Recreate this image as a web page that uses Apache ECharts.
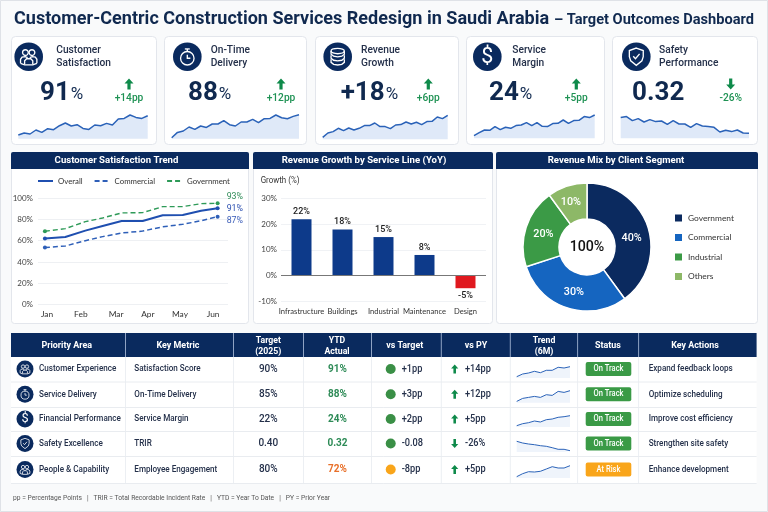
<!DOCTYPE html>
<html>
<head>
<meta charset="utf-8">
<style>
    html, body { margin: 0; padding: 0; background: #f9fafb; }
    #main { width: 768px; height: 512px; }
</style>
<script src="https://cdn.jsdelivr.net/npm/echarts@6/dist/echarts.min.js"></script>
</head>
<body>
<div id="main"></div>
<script>
// kpi cards
var kpiTitles = [['Customer', 'Satisfaction'], ['On-Time', 'Delivery'], ['Revenue', 'Growth'], ['Service', 'Margin'], ['Safety', 'Performance']];
var kpiValues = ['91', '88', '+18', '24', '0.32'];
var kpiUnits = ['%', '%', '%', '%', ''];
var kpiDeltas = ['+14pp', '+12pp', '+6pp', '+5pp', '-26%'];
var kpiIcons = ['people', 'watch', 'coins', 'dollar', 'shield'];

var sparkSatisfaction = [3.7, 5.7, 4.7, 8.7, 6.3, 10, 9, 13, 15.7, 12.7, 14, 10.3, 9.3, 13.7, 13, 15.3, 13.7, 19.7, 20.3, 23.7, 21.3, 20.3, 23];
var sparkDelivery = [1, 6.3, 7.7, 11.7, 9.3, 12.7, 11.3, 14.7, 14.7, 18, 14, 12.7, 16.7, 16.7, 19.3, 16, 20, 20.3, 23.7, 21, 20, 22.3, 24];
var sparkRevenue = [2, 6.3, 7.7, 11, 8.7, 11.3, 9.3, 11, 13.7, 13.7, 16.3, 12.7, 12.7, 10.7, 14.3, 14.7, 17.3, 15.3, 17, 14.7, 17.7, 18, 22.3, 20.7, 24];
var sparkMargin = [2.7, 5.7, 8.3, 8, 11.7, 8.7, 11, 10, 12.7, 13.3, 15.7, 12.7, 15.7, 12, 11.7, 14.7, 15, 18.3, 15, 17.7, 18, 21.7, 20.7, 23.3];
var sparkSafety = [20.7, 21.7, 17.7, 19.7, 16.3, 18.7, 16.7, 17.3, 14, 17.7, 14.3, 14.3, 11, 14.7, 12.3, 11.7, 11, 6.3, 8, 6.7, 8.3, 5.3, 5];

// customer satisfaction trend
var trendMonths = ['Jan', 'Feb', 'Mar', 'Apr', 'May', 'Jun'];
var trendMonthTicks = [0.06, 1.04, 2.06, 2.98, 3.91, 4.87];
var trendX = [0, 0.59, 1.17, 1.67, 2.22, 2.83, 3.41, 3.99, 4.52, 5];
var trendOverall = [62, 63.4, 69.4, 73.8, 78.4, 78.4, 83.8, 84, 88, 90.3];
var trendCommercial = [53.5, 55, 60, 63.8, 67.2, 69, 73, 75.3, 78.7, 82.5];
var trendGovernment = [68.8, 71.3, 77.8, 81.3, 86, 86.3, 91.9, 91.9, 94.7, 95];
var trendLegend = ['Overall', 'Commercial', 'Government'];
var trendEndLabels = ['91%', '87%', '93%'];

// revenue growth
var serviceLines = ['Infrastructure', 'Buildings', 'Industrial', 'Maintenance', 'Design'];
var serviceGrowth = [22, 18, 15, 8, -5];

// revenue mix
var clientSegments = ['Government', 'Commercial', 'Industrial', 'Others'];
var clientShares = [40, 30, 20, 10];

// table
var tableHeaders = [['Priority Area'], ['Key Metric'], ['Target', '(2025)'], ['YTD', 'Actual'], ['vs Target'], ['vs PY'], ['Trend', '(6M)'], ['Status'], ['Key Actions']];
var priorityAreas = ['Customer Experience', 'Service Delivery', 'Financial Performance', 'Safety Excellence', 'People & Capability'];
var priorityIcons = ['people', 'watch', 'dollar', 'shield', 'people'];
var keyMetrics = ['Satisfaction Score', 'On-Time Delivery', 'Service Margin', 'TRIR', 'Employee Engagement'];
var targets = ['90%', '85%', '22%', '0.40', '80%'];
var ytdActuals = ['91%', '88%', '24%', '0.32', '72%'];
var vsTargets = ['+1pp', '+3pp', '+2pp', '-0.08', '-8pp'];
var vsPY = ['+14pp', '+12pp', '+5pp', '-26%', '+5pp'];
var statuses = ['On Track', 'On Track', 'On Track', 'On Track', 'At Risk'];
var keyActions = ['Expand feedback loops', 'Optimize scheduling', 'Improve cost efficiency', 'Strengthen site safety', 'Enhance development'];

var rowTrendSatisfaction = [1.3, 4, 5, 6.7, 5.3, 7.7, 7.7, 10.7, 10, 11.3];
var rowTrendDelivery = [1.3, 4.3, 5.3, 6.3, 5.3, 8, 7.3, 11.3, 10.3, 12];
var rowTrendMargin = [1.3, 3.3, 4.3, 6, 5, 7.3, 8, 9.7, 10.3, 11.3];
var rowTrendSafety = [10.7, 9, 8, 7.3, 6.3, 5.7, 4.3, 2.7, 2.7, 1.3];
var rowTrendEngagement = [1.3, 4.3, 6.3, 6, 6.7, 9, 11.3, 10, 10, 12.3];

var footerNote = 'pp = Percentage Points   |   TRIR = Total Recordable Incident Rate   |   YTD = Year To Date   |   PY = Prior Year';

// colours
var FONT = 'Roboto';
var AXIS_FONT = 'Lato';
var NAVY = '#0a2a5e';
var INK = '#24304a';
var GREEN = '#0e8a4a';
var CARD_LINE = '#e3e6ec';

var shapes = [];
var grids = [];
var xAxes = [];
var yAxes = [];
var seriesList = [];

function text(x, y, str, size, color, weight, align, squeeze) {
    return {
        type: 'text', x: x, y: y, scaleX: squeeze || 1, silent: true,
        style: {
            text: str, fontFamily: FONT, fontSize: size, fill: color,
            fontWeight: weight || 'normal', align: align || 'left', verticalAlign: 'middle'
        }
    };
}

function box(x, y, w, h, fill, stroke, r) {
    return {
        type: 'rect', silent: true,
        shape: {x: x, y: y, width: w, height: h, r: r || 0},
        style: {fill: fill, stroke: stroke || null, lineWidth: 1}
    };
}

function hline(x1, y1, x2, y2, color) {
    return {
        type: 'line', silent: true,
        shape: {x1: x1, y1: y1, x2: x2, y2: y2},
        style: {stroke: color, lineWidth: 1}
    };
}

function arrow(cx, cy, up, s) {
    var d = up ? 1 : -1;
    var pts = [[0, -5.5], [4.5, -0.5], [1.6, -0.5], [1.6, 5.5], [-1.6, 5.5], [-1.6, -0.5], [-4.5, -0.5]];
    return {
        type: 'polygon', silent: true,
        shape: {points: pts.map(function (p) { return [cx + p[0] * s, cy + p[1] * s * d]; })},
        style: {fill: GREEN}
    };
}

// icons are drawn for a radius of 14 and scaled into place
function iconGroup(kind, cx, cy, r) {
    var line = {stroke: '#fff', fill: null, lineWidth: 1.3};
    var kids = [{type: 'circle', shape: {cx: 0, cy: 0, r: 14}, style: {fill: NAVY}}];
    if (kind === 'people') {
        kids.push({type: 'circle', shape: {cx: -3.2, cy: -4, r: 2.8}, style: line});
        kids.push({type: 'circle', shape: {cx: 3.2, cy: -4, r: 2.8}, style: line});
        kids.push({type: 'polyline', shape: {points: [[-8, 6.5], [-8, 2.5], [-6.5, 0.5], [-3.5, 0], [-1, 1], [-1, 1]]}, style: line});
        kids.push({type: 'polyline', shape: {points: [[8, 6.5], [8, 2.5], [6.5, 0.5], [3.5, 0], [1, 1]]}, style: line});
        kids.push({type: 'polyline', shape: {points: [[-8, 6.5], [-4, 8], [4, 8], [8, 6.5]]}, style: line});
        kids.push({type: 'polyline', shape: {points: [[-4, 7.5], [-4, 4], [-2, 2], [2, 2], [4, 4], [4, 7.5]]}, style: line});
    } else if (kind === 'watch') {
        kids.push({type: 'circle', shape: {cx: 0, cy: 1.5, r: 6.6}, style: line});
        kids.push({type: 'line', shape: {x1: -2.4, y1: -7.6, x2: 2.4, y2: -7.6}, style: line});
        kids.push({type: 'line', shape: {x1: 0, y1: -7.6, x2: 0, y2: -5}, style: line});
        kids.push({type: 'polyline', shape: {points: [[0, -2], [0, 1.5], [3, 1.5]]}, style: line});
    } else if (kind === 'coins') {
        kids.push({type: 'ellipse', shape: {cx: 0, cy: -5.5, rx: 6.5, ry: 2.6}, style: line});
        [-5.5, -1.5, 2.5].forEach(function (top) {
            kids.push({type: 'polyline', shape: {points: [[-6.5, top], [-6.5, top + 3], [-4, top + 5], [0, top + 5.6], [4, top + 5], [6.5, top + 3], [6.5, top]]}, style: line});
        });
    } else if (kind === 'dollar') {
        kids.push({type: 'text', x: 0, y: 0.5, style: {text: '$', fontFamily: FONT, fontSize: 21, fontWeight: 'normal', fill: '#fff', align: 'center', verticalAlign: 'middle'}});
    } else {
        kids.push({type: 'polygon', shape: {points: [[0, -8.5], [6.8, -6], [6.8, 0], [5.5, 4], [0, 8.5], [-5.5, 4], [-6.8, 0], [-6.8, -6]]}, style: line});
        kids.push({type: 'polyline', shape: {points: [[-3, -0.5], [-0.8, 2], [3.2, -2.8]]}, style: line});
    }
    return {type: 'group', x: cx, y: cy, scaleX: r / 14, scaleY: r / 14, silent: true, children: kids};
}

// one small trend: its own grid with hidden axes
function addSpark(values, left, width, base, range, lineColor, areaColor, lineWidth) {
    var idx = grids.length;
    grids.push({left: left, width: width, top: base - range, height: range});
    xAxes.push({gridIndex: idx, type: 'category', show: false, boundaryGap: false, data: values.map(function (v, i) { return i; })});
    yAxes.push({gridIndex: idx, type: 'value', show: false, min: 0, max: range});
    seriesList.push({
        type: 'line', xAxisIndex: idx, yAxisIndex: idx, data: values, symbol: 'none', silent: true,
        lineStyle: {color: lineColor, width: lineWidth}, areaStyle: {color: areaColor, opacity: 1}
    });
}

// page frame and title
shapes.push(box(0.5, 0.5, 767, 511, '#f9fafb', '#dfe2e7'));
shapes.push(text(14, 19, 'Customer-Centric Construction Services Redesign in Saudi Arabia', 18.05, '#10294f', 'bold'));
shapes.push(text(554, 20, '– Target Outcomes Dashboard', 14.6, '#10294f', 'bold'));

// kpi cards
var cardLeft = [11, 164, 315, 466, 612];
var cardWidth = [145, 142, 143, 138, 145];
var iconX = [28.7, 187.3, 337.7, 487.3, 636.3];
var titleX = [56.3, 210.7, 361, 512.3, 659];
var valueX = [40, 188, 340.7, 489, 632];
var deltaX = [129, 281, 428.3, 576.3, 730.7];
var sparkData = [sparkSatisfaction, sparkDelivery, sparkRevenue, sparkMargin, sparkSafety];
var sparkLeft = [18.3, 171.7, 322.7, 474, 620.7];
var sparkWidth = [129.4, 127.3, 125, 120.7, 128.3];
var sparkBase = [138.7, 138.7, 139.3, 138.3, 138.3];

kpiTitles.forEach(function (t, i) {
    shapes.push(box(cardLeft[i] + 0.5, 36.5, cardWidth[i], 108, '#fff', CARD_LINE, 4));
    shapes.push(iconGroup(kpiIcons[i], iconX[i], 56.7, 14.3));
    shapes.push(text(titleX[i], 50.3, t[0], 10.2, INK, 500));
    shapes.push(text(titleX[i], 63, t[1], 10.2, INK, 500));
    var big = text(valueX[i], 93, '{n|' + kpiValues[i] + '}' + (kpiUnits[i] ? '{u|' + kpiUnits[i] + '}' : ''), 26, '#10294f', 'bold');
    big.style.rich = {
        n: {fontFamily: FONT, fontSize: 26, fontWeight: 'bold', fill: '#10294f'},
        u: {fontFamily: FONT, fontSize: 17, fontWeight: 'normal', fill: '#10294f', padding: [4, 0, 0, 1]}
    };
    shapes.push(big);
    shapes.push(arrow(deltaX[i], 84, kpiDeltas[i].charAt(0) === '+', 1));
    shapes.push(text(deltaX[i], 98, kpiDeltas[i], 10.2, '#1f9254', 500, 'center'));
    addSpark(sparkData[i], sparkLeft[i], sparkWidth[i], sparkBase[i], 25, '#2a62b8', '#dfe9f8', 1.5);
});

// chart panels
var panelLeft = [11, 253, 496];
var panelWidth = [237, 239, 261];
var panelTitleX = [116.5, 364, 616];
var panelTitles = ['Customer Satisfaction Trend', 'Revenue Growth by Service Line (YoY)', 'Revenue Mix by Client Segment'];

panelTitles.forEach(function (t, i) {
    shapes.push(box(panelLeft[i] + 0.5, 152.5, panelWidth[i], 171, '#fff', CARD_LINE, 3));
    shapes.push(box(panelLeft[i], 152, panelWidth[i] + 1, 17, NAVY, null, [2, 2, 0, 0]));
    shapes.push(text(panelTitleX[i], 160.7, t, 9.6, '#fff', 'bold', 'center'));
});

shapes.push(text(260.7, 181.3, 'Growth (%)', 8.4, '#333', 'normal', 'left', 0.95));
shapes.push(text(587, 247, '100%', 14.2, '#111', 500, 'center'));

// line chart
var trendGrid = grids.length;
grids.push({left: 38, width: 190, top: 198, height: 106.7});
xAxes.push({
    gridIndex: trendGrid, type: 'value', min: -0.2, max: 5.3,
    axisLine: {show: false}, axisTick: {show: false}, splitLine: {show: false},
    axisLabel: {
        customValues: trendMonthTicks, margin: 6, fontFamily: AXIS_FONT, fontSize: 8.4, color: '#333',
        formatter: function (v) { return trendMonths[trendMonthTicks.indexOf(v)]; }
    }
});
yAxes.push({
    gridIndex: trendGrid, type: 'value', min: 0, max: 100, interval: 20,
    axisLine: {show: false}, axisTick: {show: false},
    axisLabel: {margin: 5, fontFamily: AXIS_FONT, fontSize: 8, color: '#444', formatter: '{value}%'},
    splitLine: {lineStyle: {color: '#eef0f3', width: 1}}
});

function trendSeries(name, values, color, width, dash, endLabel, labelColor, labelOffset) {
    return {
        type: 'line', name: name, xAxisIndex: trendGrid, yAxisIndex: trendGrid, symbol: 'none', silent: true,
        data: values.map(function (v, i) {
            var item = {value: [trendX[i], v]};
            if (i === 0 || i === values.length - 1) {
                item.symbol = 'circle';
                item.symbolSize = 4;
            }
            return item;
        }),
        itemStyle: {color: color},
        lineStyle: {color: color, width: width, type: dash},
        endLabel: {
            show: true, formatter: endLabel, fontFamily: FONT, fontSize: 8.8, color: labelColor,
            distance: 9, offset: labelOffset
        }
    };
}

// prefix keeps these names apart from the pie's segment names in the legends
seriesList.push(trendSeries('Trend Overall', trendOverall, '#1f4fb0', 2, 'solid', trendEndLabels[0], '#2b4fb0', [0, 0]));
seriesList.push(trendSeries('Trend Commercial', trendCommercial, '#2e5fb8', 1.5, [5, 3], trendEndLabels[1], '#3a5cb8', [0, 4]));
seriesList.push(trendSeries('Trend Government', trendGovernment, '#2e9a58', 1.4, [5, 3], trendEndLabels[2], '#2e8b57', [0, -7]));

// bar chart
var barGrid = grids.length;
grids.push({left: 281, width: 205, top: 198.7, height: 102.3});
xAxes.push({
    gridIndex: barGrid, type: 'category', data: serviceLines,
    axisLine: {show: false, onZero: false}, axisTick: {show: false},
    axisLabel: {interval: 0, hideOverlap: false, margin: 7, fontFamily: AXIS_FONT, fontSize: 7.6, color: '#333'}
});
yAxes.push({
    gridIndex: barGrid, type: 'value', min: -10, max: 30, interval: 10,
    axisLine: {show: false}, axisTick: {show: false},
    axisLabel: {margin: 4, fontFamily: AXIS_FONT, fontSize: 8, color: '#444', formatter: '{value}%'},
    splitLine: {lineStyle: {color: '#f0f2f5', width: 1}}
});
seriesList.push({
    type: 'bar', xAxisIndex: barGrid, yAxisIndex: barGrid, barWidth: 20, silent: true,
    data: serviceGrowth.map(function (v) {
        return {
            value: v,
            itemStyle: {color: v < 0 ? '#e0191f' : '#0d3a8a'},
            label: {position: v < 0 ? 'bottom' : 'top'}
        };
    }),
    label: {show: true, distance: 3, formatter: '{c}%', fontFamily: FONT, fontSize: 9, fontWeight: 500, color: '#222'},
    markLine: {
        silent: true, symbol: 'none', label: {show: false},
        lineStyle: {color: '#777', width: 1, type: 'solid'},
        data: [{yAxis: 0}]
    }
});

// pie
var pieLabelNudge = [[-2, 6], [2, -1], [3, 2], [-1, 2]];
seriesList.push({
    type: 'pie', name: 'Revenue Mix', center: [587, 247], radius: [28, 64], startAngle: 90, silent: true,
    data: clientSegments.map(function (name, i) { return {name: name, value: clientShares[i]}; }),
    color: ['#0b2a5f', '#1565c0', '#3b9a46', '#8db867'],
    itemStyle: {borderColor: '#fff', borderWidth: 1.5},
    label: {position: 'inside', formatter: '{c}%', fontFamily: FONT, fontSize: 10.8, fontWeight: 500, color: '#fff'},
    labelLayout: function (params) {
        return {dx: pieLabelNudge[params.dataIndex][0], dy: pieLabelNudge[params.dataIndex][1]};
    },
    labelLine: {show: false}
});

// table
var colEdges = [11, 125.5, 233.5, 303.5, 371.5, 441.3, 510.3, 577.6, 638.6, 756.6];
var headerCenters = [66.7, 178, 268.3, 337, 404.7, 476, 544, 608, 695];
var rowEdges = [357, 382, 407.5, 431.5, 456.5, 483.5];
var rowTrends = [rowTrendSatisfaction, rowTrendDelivery, rowTrendMargin, rowTrendSafety, rowTrendEngagement];
var rowTrendBase = [378, 402.7, 427, 452, 478];

shapes.push(box(11, 333, 745.6, 150.5, '#fff'));
shapes.push(box(11, 333, 745.6, 24, NAVY));
colEdges.slice(1, -1).forEach(function (x) {
    shapes.push(hline(x, 333, x, 357, '#8fa3c4'));
    shapes.push(hline(x, 357, x, 483.5, '#eceff3'));
});
rowEdges.slice(1).forEach(function (y) {
    shapes.push(hline(11, y, 756.6, y, '#e9ecf0'));
});
tableHeaders.forEach(function (h, i) {
    if (h.length === 1) {
        shapes.push(text(headerCenters[i], 345.5, h[0], 9.6, '#fff', 'bold', 'center', 0.93));
    } else {
        shapes.push(text(headerCenters[i], 340.3, h[0], 9.4, '#fff', 'bold', 'center', 0.93));
        shapes.push(text(headerCenters[i], 351.3, h[1], 9.4, '#fff', 'bold', 'center', 0.93));
    }
});
priorityAreas.forEach(function (area, i) {
    var y = (rowEdges[i] + rowEdges[i + 1]) / 2 - 0.5;
    var risk = statuses[i] === 'At Risk';
    shapes.push(iconGroup(priorityIcons[i], 25, y, 8.5));
    shapes.push(text(39, y, area, 9, INK, 500, 'left', 0.9));
    shapes.push(text(134.3, y, keyMetrics[i], 9, INK, 500, 'left', 0.9));
    shapes.push(text(268.3, y, targets[i], 10, INK, 500, 'center'));
    shapes.push(text(337.5, y, ytdActuals[i], 10, risk ? '#e8702a' : '#2e8b57', 'bold', 'center'));
    shapes.push({type: 'circle', silent: true, shape: {cx: 390.7, cy: y, r: 5}, style: {fill: risk ? '#f9a51a' : '#3a8f46'}});
    shapes.push(text(401.7, y, vsTargets[i], 10, INK, 500, 'left', 0.92));
    shapes.push(arrow(454.7, y, vsPY[i].charAt(0) === '+', 0.8));
    shapes.push(text(465, y, vsPY[i], 10, INK, 500, 'left', 0.92));
    addSpark(rowTrends[i], 516.7, 53.3, rowTrendBase[i], 15, '#2a62b8', '#eff4fb', 1);
    shapes.push(box(585.7, y - 7, 45.6, 14, risk ? '#f9a51a' : '#3a9a46', null, 2));
    shapes.push(text(608.5, y, statuses[i], 8.4, '#fff', 500, 'center', 0.9));
    shapes.push(text(648.7, y, keyActions[i], 9, INK, 500, 'left', 0.9));
});
shapes.push(text(13, 498, footerNote, 7.4, '#555', 'normal', 'left', 0.905));

var option = {
    animation: false,
    backgroundColor: '#f9fafb',
    textStyle: {fontFamily: FONT},
    graphic: {elements: shapes},
    grid: grids,
    xAxis: xAxes,
    yAxis: yAxes,
    legend: [
        {
            data: trendLegend.map(function (n) { return 'Trend ' + n; }),
            left: 37, top: 177, padding: 0, itemWidth: 15, itemHeight: 8, itemGap: 11, selectedMode: false,
            itemStyle: {opacity: 0},
            textStyle: {fontFamily: AXIS_FONT, fontSize: 7.8, color: '#333'},
            formatter: function (name) { return name.replace('Trend ', ''); }
        },
        {
            data: clientSegments, orient: 'vertical', icon: 'rect',
            left: 673, top: 212.5, padding: 0, itemWidth: 9, itemHeight: 9, itemGap: 8.5, selectedMode: false,
            textStyle: {fontFamily: AXIS_FONT, fontSize: 8.4, color: '#333'}
        }
    ],
    series: seriesList
};

var chart = echarts.init(document.getElementById('main'));
chart.setOption(option);
</script>
</body>
</html>
